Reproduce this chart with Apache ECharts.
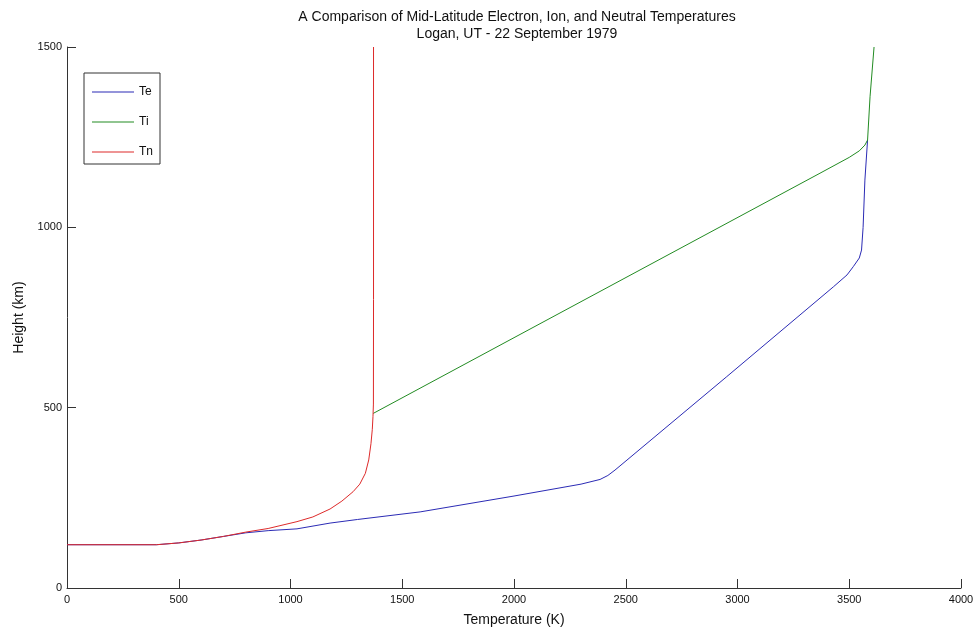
<!DOCTYPE html>
<html>
<head>
<meta charset="utf-8">
<script src="https://cdn.jsdelivr.net/npm/echarts@6/dist/echarts.min.js"></script>
<style>
  html, body { margin: 0; padding: 0; background: #fff; }
  #chart { width: 979px; height: 629px; }
</style>
</head>
<body>
<div id="chart"></div>
<script>
// Temperature profiles: [temperature (K), height (km)]
const electronTemp = [
  [0, 120], [400, 120], [500, 125], [600, 133], [700, 143], [800, 153],
  [900, 159], [1029, 164], [1177, 180], [1300, 190], [1580, 211], [2000, 255],
  [2300, 288], [2385, 301], [2420, 312], [2452, 327], [2950, 585], [3429, 835],
  [3490, 868], [3518, 891], [3545, 915], [3555, 937], [3562, 1000], [3570, 1131],
  [3582, 1242]
];
const ionTemp = [
  [1370, 484], [2027, 703], [3369, 1150], [3500, 1194], [3545, 1212],
  [3570, 1228], [3582, 1242], [3593, 1362], [3611, 1500]
];
const neutralTemp = [
  [0, 120], [400, 120], [500, 125], [600, 133], [700, 143], [800, 155],
  [900, 165], [1029, 184], [1100, 197], [1177, 219], [1230, 241], [1280, 267],
  [1310, 288], [1335, 318], [1350, 355], [1360, 400], [1366, 440], [1369, 475],
  [1371, 510], [1371.5, 800], [1371.5, 1500]
];
const seriesNames = ['Te', 'Ti', 'Tn'];
const xTicks = { min: 0, max: 4000, step: 500 };
const yTicks = { min: 0, max: 1500, step: 500 };

const font = 'Liberation Sans, Arial, sans-serif';
const axisColor = '#333';
const plainNumber = v => String(v);

const chart = echarts.init(document.getElementById('chart'), null, { renderer: 'canvas' });
chart.setOption({
  backgroundColor: '#fff',
  animation: false,
  title: {
    text: 'A Comparison of Mid-Latitude Electron, Ion, and Neutral Temperatures\nLogan, UT - 22 September 1979',
    left: 512,
    top: 4,
    textAlign: 'center',
    textStyle: { fontFamily: font, fontSize: 14, fontWeight: 'normal', color: '#111', lineHeight: 17 }
  },
  legend: {
    orient: 'vertical',
    left: 84,
    top: 73,
    padding: [13, 7, 6, 8],
    icon: 'rect',
    itemWidth: 42,
    itemHeight: 1,
    itemGap: 18,
    borderColor: '#333',
    borderWidth: 1,
    backgroundColor: '#fff',
    data: seriesNames,
    textStyle: { fontFamily: font, fontSize: 12, color: '#111' }
  },
  grid: { left: 67, right: 18, top: 47, bottom: 41, containLabel: false, outerBoundsMode: 'none' },
  xAxis: {
    type: 'value',
    min: xTicks.min, max: xTicks.max, interval: xTicks.step,
    name: 'Temperature (K)',
    nameLocation: 'middle',
    nameGap: 25,
    nameTextStyle: { fontFamily: font, fontSize: 14, color: '#111' },
    axisLine: { lineStyle: { color: axisColor, width: 1 } },
    axisTick: { inside: true, length: 9, lineStyle: { color: axisColor } },
    axisLabel: { fontFamily: font, fontSize: 11, color: '#111', margin: 6, formatter: plainNumber },
    splitLine: { show: false }
  },
  yAxis: {
    type: 'value',
    min: yTicks.min, max: yTicks.max, interval: yTicks.step,
    name: 'Height (km)',
    nameLocation: 'middle',
    nameGap: 41,
    nameRotate: 90,
    nameTextStyle: { fontFamily: font, fontSize: 14, color: '#111' },
    axisLine: { show: true, lineStyle: { color: axisColor, width: 1 } },
    axisTick: { show: true, inside: true, length: 9, lineStyle: { color: axisColor } },
    axisLabel: { fontFamily: font, fontSize: 11, color: '#111', margin: 5, formatter: plainNumber },
    splitLine: { show: false }
  },
  series: [
    { name: 'Te', type: 'line', data: electronTemp, symbol: 'none', smooth: false,
      lineStyle: { color: '#2b2bb5', width: 1 }, itemStyle: { color: '#2b2bb5' }, z: 2 },
    { name: 'Ti', type: 'line', data: ionTemp, symbol: 'none', smooth: false,
      lineStyle: { color: '#228b22', width: 1 }, itemStyle: { color: '#228b22' }, z: 3 },
    { name: 'Tn', type: 'line', data: neutralTemp, symbol: 'none', smooth: false,
      lineStyle: { color: '#dd2a2a', width: 1 }, itemStyle: { color: '#dd2a2a' }, z: 4 }
  ]
});
</script>
</body>
</html>
